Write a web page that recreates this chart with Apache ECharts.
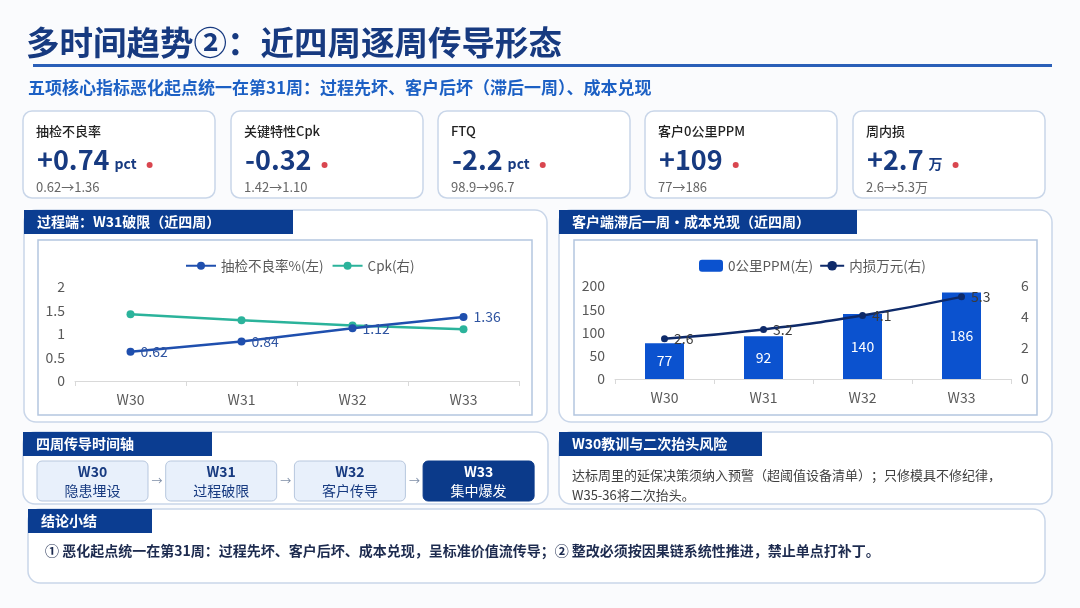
<!DOCTYPE html>
<html>
<head>
<meta charset="utf-8">
<script src="https://cdn.jsdelivr.net/npm/echarts@6/dist/echarts.min.js"></script>
<style>
  html, body { margin: 0; padding: 0; background: #fafbfd; }
  #main { width: 1080px; height: 608px; }
</style>
</head>
<body>
<div id="main"></div>
<script>
// 数据
var weeks = ['W30', 'W31', 'W32', 'W33'];
var defectRate = [0.62, 0.84, 1.12, 1.36];
var cpkValues = [1.42, 1.29, 1.18, 1.10];
var ppmValues = [77, 92, 140, 186];
var lossValues = [2.6, 3.2, 4.1, 5.3];

var kpiNames = ['抽检不良率', '关键特性Cpk', 'FTQ', '客户0公里PPM', '周内损'];
var kpiDeltas = ['+0.74', '-0.32', '-2.2', '+109', '+2.7'];
var kpiUnits = ['pct', '', 'pct', '', '万'];
var kpiRanges = ['0.62→1.36', '1.42→1.10', '98.9→96.7', '77→186', '2.6→5.3万'];

var stageLabels = ['隐患埋设', '过程破限', '客户传导', '集中爆发'];

var FONT = '"Noto Sans CJK SC", "Noto Sans", sans-serif';
var NAVY = '#173a80';
var HEAD = '#0b3d91';

var measureCtx = document.createElement('canvas').getContext('2d');
function textWidth(s, font) {
    measureCtx.font = font;
    return measureCtx.measureText(s).width;
}

function txt(x, y, s, font, fill, align, valign) {
    return {
        type: 'text', x: x, y: y, z: 10,
        style: {
            text: s, font: font, fill: fill,
            textAlign: align || 'left', textVerticalAlign: valign || 'middle'
        }
    };
}

function box(x, y, w, h, r, fill, stroke, lw, z) {
    return {
        type: 'rect', z: z === undefined ? -5 : z,
        shape: {x: x, y: y, width: w, height: h, r: r},
        style: {fill: fill, stroke: stroke || null, lineWidth: lw || 0}
    };
}

function panel(x, y, w, h, headW, title) {
    return [
        box(x, y, w, h, 12, '#ffffff', '#c9d6e9', 1.5, -6),
        box(x, y, headW, 24, 0, HEAD, null, 0, 5),
        txt(x + 13, y + 12, title, 'bold 14px ' + FONT, '#ffffff')
    ];
}

var graphics = [];

// 标题
graphics.push(txt(26, 42, '多时间趋势②：近四周逐周传导形态', 'bold 33.5px ' + FONT, NAVY));
graphics.push(box(33, 64, 1019, 3, 0, '#2a5fb8', null, 0, 5));
graphics.push(txt(28, 88, '五项核心指标恶化起点统一在第31周：过程先坏、客户后坏（滞后一周）、成本兑现', 'bold 17px ' + FONT, '#1c60c4'));

// KPI 卡片
var cardX = [23, 231, 438, 645, 853];
for (var i = 0; i < kpiNames.length; i++) {
    var cx = cardX[i];
    graphics.push(box(cx, 111, 192, 87, 9, '#ffffff', '#c9d6e9', 1.5));
    graphics.push(txt(cx + 13, 131, kpiNames[i], '500 13px ' + FONT, '#222222'));
    var vFont = 'bold 27px ' + FONT;
    graphics.push(txt(cx + 14, 160, kpiDeltas[i], vFont, NAVY));
    var endX = cx + 14 + textWidth(kpiDeltas[i], vFont);
    if (kpiUnits[i]) {
        var uFont = 'bold 14px ' + FONT;
        graphics.push(txt(endX + 5, 164, kpiUnits[i], uFont, NAVY));
        endX += 5 + textWidth(kpiUnits[i], uFont);
    }
    graphics.push({type: 'circle', z: 10, shape: {cx: endX + 13, cy: 165, r: 3}, style: {fill: '#d9464f'}});
    graphics.push(txt(cx + 13, 187, kpiRanges[i], '13px ' + FONT, '#666666'));
}

// 图表面板
graphics = graphics.concat(panel(24, 210, 523, 212, 269, '过程端：W31破限（近四周）'));
graphics.push(box(38, 240, 494, 175, 0, '#ffffff', '#b4c6df', 1.5));
graphics = graphics.concat(panel(559, 210, 493, 212, 298, '客户端滞后一周•成本兑现（近四周）'));
graphics.push(box(574, 240, 463, 175, 0, '#ffffff', '#b4c6df', 1.5));

// 时间轴
graphics = graphics.concat(panel(23, 432, 525, 72, 189, '四周传导时间轴'));
for (var j = 0; j < weeks.length; j++) {
    var bx = 37 + j * 128.7;
    var last = j === weeks.length - 1;
    graphics.push(box(bx, 461, 111, 40, 5, last ? '#0b3a8a' : '#e8f0fb', last ? '#0b3a8a' : '#b7c7de', 1));
    graphics.push(txt(bx + 55.5, 472, weeks[j], 'bold 14px ' + FONT, last ? '#ffffff' : NAVY, 'center'));
    graphics.push(txt(bx + 55.5, 491, stageLabels[j], '14px ' + FONT, last ? '#ffffff' : NAVY, 'center'));
    if (!last) {
        graphics.push(txt(bx + 120, 481, '→', '11px ' + FONT, '#7f8fa8', 'center'));
    }
}

// 风险说明
graphics = graphics.concat(panel(559, 432, 493, 72, 203, 'W30教训与二次抬头风险'));
graphics.push(txt(572, 475, '达标周里的延保决策须纳入预警（超阈值设备清单）；只修模具不修纪律，', '13px ' + FONT, '#404040'));
graphics.push(txt(572, 495, 'W35-36将二次抬头。', '13px ' + FONT, '#404040'));

// 结论
graphics = graphics.concat(panel(28, 509, 1017, 74, 124, '结论小结'));
graphics.push(txt(45, 551, '① 恶化起点统一在第31周：过程先坏、客户后坏、成本兑现，呈标准价值流传导；② 整改必须按因果链系统性推进，禁止单点打补丁。', 'bold 14px ' + FONT, '#1d2b4f'));

var axisLabelStyle = {color: '#595959', fontSize: 14, fontFamily: FONT};
var catAxis = function (gi, margin) {
    return {
        type: 'category', gridIndex: gi, data: weeks,
        axisLine: {lineStyle: {color: '#d9d9d9'}},
        axisTick: {show: true, length: 5, lineStyle: {color: '#d9d9d9'}},
        axisLabel: Object.assign({margin: margin}, axisLabelStyle)
    };
};
var valAxis = function (gi, max, interval, pos, show) {
    return {
        type: 'value', gridIndex: gi, min: 0, max: max, interval: interval, position: pos, show: show,
        splitLine: {show: false},
        axisLine: {show: false},
        axisTick: {show: false},
        axisLabel: Object.assign({margin: 10}, axisLabelStyle)
    };
};

var chart = echarts.init(document.getElementById('main'));
chart.setOption({
    backgroundColor: '#fafbfd',
    animation: false,
    textStyle: {fontFamily: FONT},
    graphic: {elements: graphics},
    legend: [{
        left: 180, top: 254, itemWidth: 30, itemHeight: 10, itemGap: 8,
        data: ['抽检不良率%(左)', 'Cpk(右)'],
        textStyle: {color: '#595959', fontSize: 13.5}
    }, {
        left: 694, top: 254, itemWidth: 24, itemHeight: 12, itemGap: 6,
        data: ['0公里PPM(左)', '内损万元(右)'],
        textStyle: {color: '#595959', fontSize: 13.5}
    }],
    grid: [
        {left: 75, right: 561, top: 287, bottom: 227},
        {left: 615, right: 69, top: 286, bottom: 229}
    ],
    xAxis: [catAxis(0, 12), catAxis(1, 12)],
    yAxis: [
        valAxis(0, 2, 0.5, 'left', true),
        valAxis(0, 2, 0.5, 'right', false),
        valAxis(1, 200, 50, 'left', true),
        valAxis(1, 6, 2, 'right', true)
    ],
    series: [{
        name: '抽检不良率%(左)', type: 'line', xAxisIndex: 0, yAxisIndex: 0,
        data: defectRate, symbol: 'circle', symbolSize: 8, z: 4,
        itemStyle: {color: '#1f4fae'}, lineStyle: {width: 2.5, color: '#1f4fae'},
        label: {show: true, position: 'right', color: '#2f54a0', fontSize: 14, distance: 6}
    }, {
        name: 'Cpk(右)', type: 'line', xAxisIndex: 0, yAxisIndex: 1,
        data: cpkValues, symbol: 'circle', symbolSize: 8, z: 3,
        itemStyle: {color: '#2bb39b'}, lineStyle: {width: 2.5, color: '#2bb39b'}
    }, {
        name: '0公里PPM(左)', type: 'bar', xAxisIndex: 1, yAxisIndex: 2,
        data: ppmValues, barWidth: 39,
        itemStyle: {color: '#0b52cf'},
        label: {show: true, position: 'inside', color: '#ffffff', fontSize: 14}
    }, {
        name: '内损万元(右)', type: 'line', xAxisIndex: 1, yAxisIndex: 3,
        data: lossValues, smooth: true, symbol: 'circle', symbolSize: 7, z: 4,
        itemStyle: {color: '#0e2a6a'}, lineStyle: {width: 2.5, color: '#0e2a6a'},
        label: {show: true, position: 'right', color: '#3b3b3b', fontSize: 14, distance: 6}
    }]
});
</script>
</body>
</html>
